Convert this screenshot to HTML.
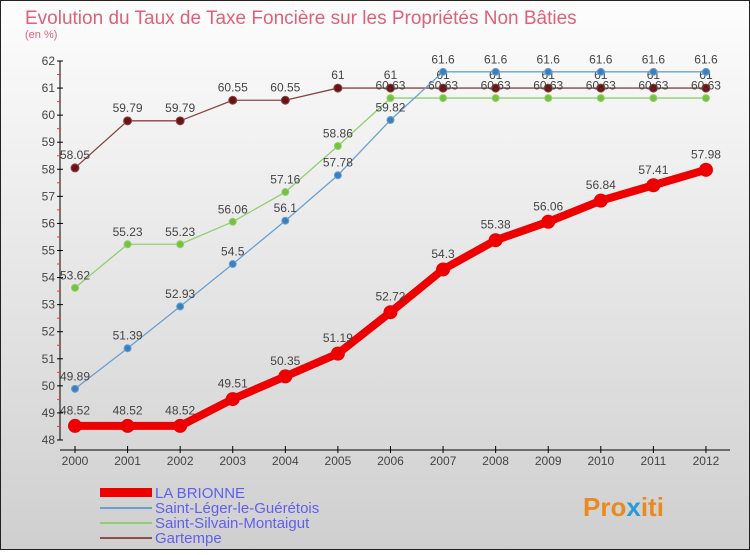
<!DOCTYPE html>
<html><head><meta charset="utf-8"><style>
html,body{margin:0;padding:0}
body{width:750px;height:550px;overflow:hidden;font-family:"Liberation Sans",sans-serif}
</style></head><body>
<svg width="750" height="550" xmlns="http://www.w3.org/2000/svg">
<defs><linearGradient id="bg" x1="0" y1="0" x2="0" y2="1"><stop offset="0" stop-color="#fdfdfd"/><stop offset="1" stop-color="#cfcfcf"/></linearGradient></defs>
<rect x="0.5" y="0.5" width="749" height="549" fill="url(#bg)" stroke="#222"/>
<text x="25" y="24" font-size="19" fill="#e0607a">Evolution du Taux de Taxe Foncière sur les Propriétés Non Bâties</text>
<text x="25" y="38" font-size="11" fill="#e0607a">(en %)</text>
<g id="axes"></g>
<g id="series"></g>
<g id="legend">
<rect x="100" y="488" width="52" height="9" fill="#e00"/>
<line x1="100" y1="508" x2="152" y2="508" stroke="#6aa0d0" stroke-width="2"/>
<line x1="100" y1="523" x2="152" y2="523" stroke="#90d070" stroke-width="2"/>
<line x1="100" y1="538" x2="152" y2="538" stroke="#8a5050" stroke-width="2"/>
<text x="155" y="498" font-size="15" fill="#6060ee">LA BRIONNE</text>
<text x="155" y="513" font-size="15" fill="#6060ee">Saint-Léger-le-Guérétois</text>
<text x="155" y="528" font-size="15" fill="#6060ee">Saint-Silvain-Montaigut</text>
<text x="155" y="543" font-size="15" fill="#6060ee">Gartempe</text>
</g>
<text x="583" y="516" font-size="26" font-weight="bold" fill="#e98a20">Pro<tspan fill="#2a9ad8">x</tspan>iti</text>
</svg>
<script>
const years=[2000,2001,2002,2003,2004,2005,2006,2007,2008,2009,2010,2011,2012];
const yTicks=[48,49,50,51,52,53,54,55,56,57,58,59,60,61,62];
const brionne=[48.52,48.52,48.52,49.51,50.35,51.19,52.72,54.3,55.38,56.06,56.84,57.41,57.98];
const leger=[49.89,51.39,52.93,54.5,56.1,57.78,59.82,61.6,61.6,61.6,61.6,61.6,61.6];
const silvain=[53.62,55.23,55.23,56.06,57.16,58.86,60.63,60.63,60.63,60.63,60.63,60.63,60.63];
const gartempe=[58.05,59.79,59.79,60.55,60.55,61,61,61,61,61,61,61,61];
const NS="http://www.w3.org/2000/svg";
const X=i=>75+i*52.58;
const Y=v=>61+(62-v)*27.07;
function mk(t,a,p){const e=document.createElementNS(NS,t);for(const k in a)e.setAttribute(k,a[k]);p.appendChild(e);return e;}
const ax=document.getElementById('axes');
let l=mk('line',{x1:60,y1:Y(62),x2:60,y2:Y(48),stroke:'#000'},ax);


l=mk('line',{x1:60,y1:450,x2:730,y2:450,stroke:'#000'},ax);


yTicks.forEach(v=>{
 mk('line',{x1:57,y1:Y(v),x2:63,y2:Y(v),stroke:'#000'},ax);
 if(v<62) mk('line',{x1:57,y1:Y(v+0.5),x2:61,y2:Y(v+0.5),stroke:'#f33'},ax);
 const t=mk('text',{x:55,y:Y(v)+4,'font-size':12,'text-anchor':'end',fill:'#444'},ax);t.textContent=v;
 
 
});
years.forEach((y,i)=>{
 mk('line',{x1:X(i),y1:446,x2:X(i),y2:453,stroke:'#000'},ax);
 const t=mk('text',{x:X(i),y:465,'font-size':12,'text-anchor':'middle',fill:'#444'},ax);t.textContent=y;
 
 
});
const sg=document.getElementById('series');
function series(d,name,col,fill,w,r){
 const g=mk('g',{},sg);
 
 
 mk('polyline',{points:d.map((v,i)=>X(i)+','+Y(v)).join(' '),fill:'none',stroke:col,'stroke-width':w,'stroke-linejoin':'round'},g);
 d.forEach((v,i)=>{
  const c=mk('circle',{cx:X(i),cy:Y(v),r:r,fill:fill,stroke:col,'stroke-width':1},g);
  
  
  const t=mk('text',{x:X(i),y:Y(v)-r-5,'font-size':12,'text-anchor':'middle',fill:'#444'},g);t.textContent=v;
  
  
 });
}
series(gartempe,'series-gartempe','#8a4545','#6a1515',1.3,4);
series(silvain,'series-saint-silvain','#90d070','#7ac040',1.3,3.5);
series(leger,'series-saint-leger','#6aa0d0','#3a80c0',1.3,3.5);
series(brionne,'series-la-brionne','#e00','#e00',8,6.5);
</script>
</body></html>
